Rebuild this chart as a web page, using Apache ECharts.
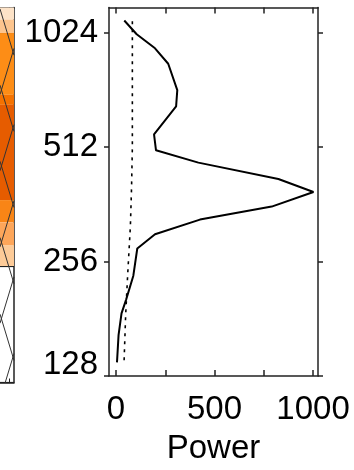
<!DOCTYPE html>
<html><head><meta charset="utf-8">
<script src="https://cdn.jsdelivr.net/npm/echarts@6/dist/echarts.min.js"></script>
<style>html,body{margin:0;padding:0;background:#fff}#c{width:354px;height:470px}</style>
</head><body><div id="c"></div>
<script>
// Global wavelet power (solid) vs period
const powerPeriods = [1102,1014,931,848,723,655,553,502,466,422,390,357,330,302,277,235,203,187,164,139];
const powerValues  = [42,105,198,265,311,305,193,203,418,824,1002,790,426,198,108,88,51,28,13,5];
// Significance level (dashed)
const signifPeriods = [1096,688,510,402,317,235,185,140];
const signifValues  = [83,83,83,79,73,59,49,41];
// Tick values
const periodTicks = [128,256,512,1024];
const powerTicks = [0,250,500,750,1000];
const powerLabels = [0,500,1000];
// Left (cropped) contour panel: period bands and colours
const bandLow  = [1109,1024,709,668,379,332,290,256];
const bandHigh = [1192,1109,1024,709,668,379,332,290];
const bandColors = ['#fde3c8','#fdc58e','#fd8d16','#f47200','#e65c00','#f98516','#fda65a','#fdcb98'];
// Cone-of-influence hatch crossing points (periods)
const hatchCenters = [916,582,370,235,149];

const FONT = '"Liberation Sans", Arial, sans-serif';
const FS = 33;
const axisCol = '#222';
const yMin = 128, yMax = 1192, xMin = -35.5, xMax = 1025;
const stripMin = -20, stripMax = 14;

const chart = echarts.init(document.getElementById('c'), null, {renderer:'canvas'});

const octavePx = 375 / Math.log2(yMax / yMin);
const slope = 1.36, hx = 11.5;
function pAt(c, x, sign){ return c * Math.pow(2, sign * slope * (x - hx) / octavePx); }
const hatchSeries = [];
hatchCenters.forEach(c => {
  [1, -1].forEach(s => {
    hatchSeries.push({
      type:'line', xAxisIndex:2, yAxisIndex:2, symbol:'none', silent:true, z:5,
      lineStyle:{color:'#333', width:1},
      data:[[stripMin, pAt(c, stripMin, -s)], [stripMax, pAt(c, stripMax, -s)]]
    });
  });
});

const bandSeries = {
  type:'line', xAxisIndex:2, yAxisIndex:2, data:[], silent:true, z:1,
  markArea:{silent:true, z:1,
    data: bandLow.map((lo,i)=>[{yAxis:lo, itemStyle:{color:bandColors[i], borderWidth:0}}, {yAxis:bandHigh[i]}])
  }
};

const lineW = 1.5;
const yLabelFmt = v => {
  const n = Math.round(v);
  return n === 128 ? '{lo|' + n + '}' : '{n|' + n + '}';
};

const option = {
  animation:false,
  backgroundColor:'#fff',
  grid:[
    {left:109, top:7.5, width:209, height:375},
    {left:stripMin, top:7.5, width:34, height:375}
  ],
  xAxis:[
    {gridIndex:0, type:'value', position:'bottom', min:xMin, max:xMax,
     axisLine:{show:true, onZero:false, lineStyle:{color:axisCol, width:lineW}},
     axisTick:{show:true, inside:true, length:6, customValues:powerTicks, lineStyle:{color:axisCol, width:lineW}},
     axisLabel:{customValues:powerLabels, fontSize:FS, fontFamily:FONT, color:'#000', margin:17, formatter:v=>String(Math.round(v))},
     splitLine:{show:false},
     name:'Power', nameLocation:'middle', nameGap:56,
     nameTextStyle:{fontSize:FS, fontFamily:FONT, color:'#000'}},
    {gridIndex:0, type:'value', position:'top', min:xMin, max:xMax,
     axisLine:{show:true, onZero:false, lineStyle:{color:axisCol, width:lineW}},
     axisTick:{show:true, inside:true, length:6, customValues:powerTicks, lineStyle:{color:axisCol, width:lineW}},
     axisLabel:{show:false}, splitLine:{show:false}},
    {gridIndex:1, type:'value', position:'bottom', min:stripMin, max:stripMax,
     axisLine:{show:true, onZero:false, lineStyle:{color:axisCol, width:lineW}},
     axisTick:{show:true, inside:true, length:4, customValues:[1.5], lineStyle:{color:axisCol, width:1}},
     axisLabel:{show:false}, splitLine:{show:false}},
    {gridIndex:1, type:'value', position:'top', min:stripMin, max:stripMax,
     axisLine:{show:true, onZero:false, lineStyle:{color:axisCol, width:lineW}},
     axisTick:{show:true, inside:true, length:4, customValues:[1.5], lineStyle:{color:axisCol, width:1}},
     axisLabel:{show:false}, splitLine:{show:false}}
  ],
  yAxis:[
    {gridIndex:0, type:'log', logBase:2, min:yMin, max:yMax, position:'left',
     axisLine:{show:true, onZero:false, lineStyle:{color:axisCol, width:lineW}},
     axisTick:{show:true, inside:false, length:5, customValues:periodTicks, lineStyle:{color:axisCol, width:lineW}},
     axisLabel:{customValues:periodTicks, fontSize:FS, fontFamily:FONT, color:'#000', margin:11,
       formatter:yLabelFmt,
       rich:{n:{fontSize:FS, fontFamily:FONT, color:'#000'},
             lo:{fontSize:FS, fontFamily:FONT, color:'#000', padding:[0,0,22,0]}}},
     splitLine:{show:false}},
    {gridIndex:0, type:'log', logBase:2, min:yMin, max:yMax, position:'right',
     axisLine:{show:true, onZero:false, lineStyle:{color:axisCol, width:lineW}},
     axisTick:{show:true, inside:false, length:5, customValues:periodTicks, lineStyle:{color:axisCol, width:lineW}},
     axisLabel:{show:false}, splitLine:{show:false}},
    {gridIndex:1, type:'log', logBase:2, min:yMin, max:yMax, position:'right',
     axisLine:{show:true, onZero:false, lineStyle:{color:axisCol, width:lineW}},
     axisTick:{show:false, customValues:periodTicks},
     axisLabel:{show:false},
     splitLine:{show:true, lineStyle:{color:'#222', width:1.2}}}
  ],
  series:[
    bandSeries,
    ...hatchSeries,
    {type:'line', xAxisIndex:0, yAxisIndex:0, symbol:'none', z:3,
     lineStyle:{color:'#000', width:2},
     data: powerValues.map((v,i)=>[v, powerPeriods[i]])},
    {type:'line', xAxisIndex:0, yAxisIndex:0, symbol:'none', z:3,
     lineStyle:{color:'#000', width:1.6, type:[3,5]},
     data: signifValues.map((v,i)=>[v, signifPeriods[i]])}
  ]
};
chart.setOption(option);
</script>
</body></html>
